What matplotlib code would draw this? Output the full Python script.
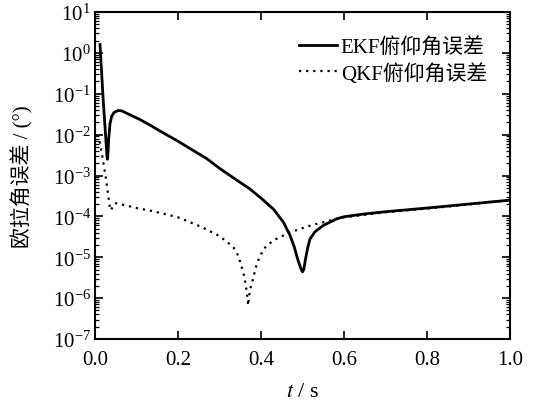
import matplotlib
matplotlib.use('Agg')
import matplotlib.pyplot as plt
from matplotlib.ticker import LogLocator, NullFormatter, FixedLocator

# 字体设置：西文用 Times 风格，中文用 CJK
plt.rcParams['font.family'] = ['Liberation Serif', 'Noto Sans CJK SC']
plt.rcParams['mathtext.fontset'] = 'stix'
plt.rcParams['axes.unicode_minus'] = False

# 数据
t_ekf = [0.012, 0.016, 0.020, 0.024, 0.027, 0.029, 0.030, 0.031, 0.033, 0.036,
         0.040, 0.046, 0.056, 0.065, 0.080, 0.108, 0.133, 0.160, 0.200, 0.240,
         0.269, 0.300, 0.340, 0.373, 0.400, 0.430, 0.454, 0.470, 0.480, 0.490,
         0.497, 0.500, 0.503, 0.508, 0.513, 0.518, 0.530, 0.550, 0.582, 0.600,
         0.650, 0.700, 0.800, 0.900, 1.000]
ekf = [1.6, 3.2e-1, 6.3e-2, 1.6e-2, 5.6e-3, 2.8e-3, 2.5e-3, 3.2e-3, 7.9e-3, 1.8e-2,
       2.8e-2, 3.5e-2, 3.9e-2, 3.8e-2, 3.2e-2, 2.35e-2, 1.7e-2, 1.17e-2, 6.9e-3, 3.9e-3,
       2.6e-3, 1.5e-3, 7.9e-4, 4.7e-4, 2.8e-4, 1.5e-4, 7.2e-5, 3.4e-5, 1.8e-5, 7.9e-6,
       5.0e-6, 4.4e-6, 5.0e-6, 1.0e-5, 1.8e-5, 2.8e-5, 4.2e-5, 6.0e-5, 8.7e-5, 9.8e-5,
       1.15e-4, 1.3e-4, 1.6e-4, 2.0e-4, 2.5e-4]

t_qkf = [0.006, 0.012, 0.020, 0.026, 0.032, 0.036, 0.038, 0.041, 0.046, 0.050,
         0.070, 0.100, 0.130, 0.160, 0.200, 0.257, 0.300, 0.333, 0.345, 0.357,
         0.363, 0.367, 0.369, 0.371, 0.375, 0.381, 0.390, 0.406, 0.430, 0.470,
         0.520, 0.582, 0.600, 0.700, 0.800, 0.900, 1.000]
qkf = [1.0e-2, 6.3e-3, 2.1e-3, 8.9e-4, 3.2e-4, 1.6e-4, 1.4e-4, 1.6e-4, 2.0e-4, 2.1e-4,
       1.9e-4, 1.6e-4, 1.4e-4, 1.2e-4, 9.5e-5, 5.5e-5, 3.3e-5, 1.8e-5, 1.1e-5, 4.4e-6,
       2.2e-6, 1.1e-6, 6.6e-7, 1.1e-6, 1.8e-6, 3.0e-6, 7.1e-6, 1.6e-5, 2.6e-5, 4.1e-5,
       6.0e-5, 8.7e-5, 9.5e-5, 1.26e-4, 1.55e-4, 1.95e-4, 2.5e-4]

labels = ['EKF俯仰角误差', 'QKF俯仰角误差']
x_ticks = [0.0, 0.2, 0.4, 0.6, 0.8, 1.0]

fig = plt.figure(figsize=(5.38, 4.10), dpi=100)
ax = fig.add_axes([0.1766, 0.1707, 0.7714, 0.7976])

ax.plot(t_ekf, ekf, color='black', linewidth=2.0, label=labels[0])
ax.plot(t_qkf, qkf, color='black', linewidth=1.6, linestyle=(0, (1, 2.2)), label=labels[1])

ax.set_yscale('log')
ax.set_xlim(0, 1.0)
ax.set_ylim(1e-7, 1e1)

ax.xaxis.set_major_locator(FixedLocator(x_ticks))
ax.set_xticklabels([f'{v:.1f}' for v in x_ticks])
ax.yaxis.set_major_locator(LogLocator(base=10, numticks=20))
ax.yaxis.set_minor_locator(LogLocator(base=10, subs=range(2, 10), numticks=100))
ax.yaxis.set_minor_formatter(NullFormatter())

ax.tick_params(which='major', direction='in', length=6, width=1.2,
               top=True, right=True, labelsize=15, pad=3)
ax.tick_params(axis='x', which='major', pad=8)
ax.tick_params(which='minor', direction='in', length=3, width=0.9,
               left=True, right=True)
for sp in ax.spines.values():
    sp.set_linewidth(1.5)

ax.set_xlabel('$t$ / s', fontsize=16, labelpad=9)
ax.set_ylabel('欧拉角误差 / (°)', fontsize=15, labelpad=14)

ax.legend(loc='upper right', frameon=False, fontsize=15, handlelength=1.8,
          handletextpad=0.2, labelspacing=0.25, borderaxespad=0.6,
          bbox_to_anchor=(0.995, 0.985))

fig.savefig('out.png', dpi=100)
